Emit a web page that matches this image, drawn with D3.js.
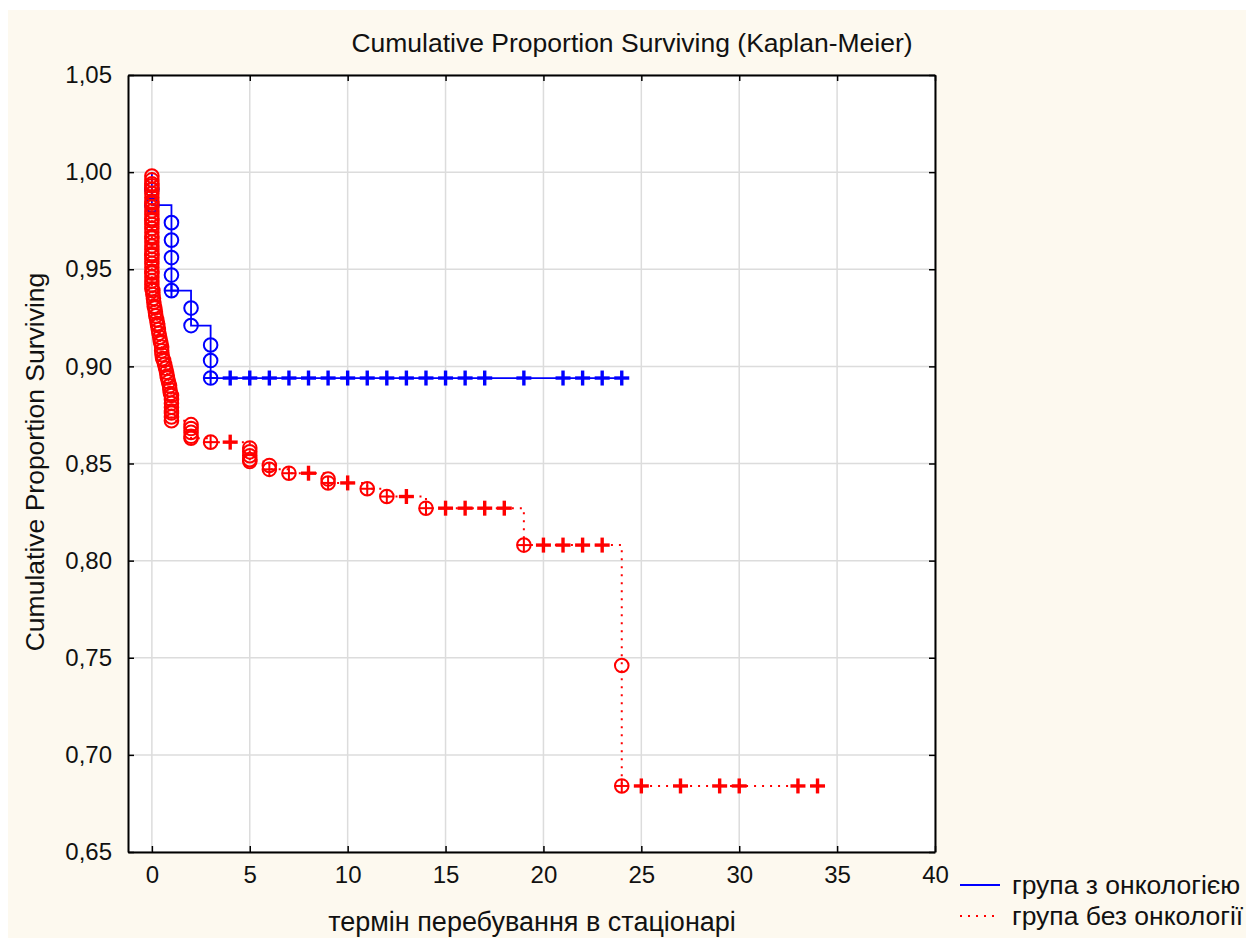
<!DOCTYPE html>
<html>
<head>
<meta charset="utf-8">
<script src="https://cdn.jsdelivr.net/npm/d3@7"></script>
<style>
body { margin: 0; background: #fff; }
svg text { font-family: "Liberation Sans", Arial, sans-serif; fill: #111; }
</style>
</head>
<body>
<div id="chart"></div>
<script>
var width = 1250,
	height = 940;

// axis ticks
var xTicks = [0, 5, 10, 15, 20, 25, 30, 35, 40];
var yTicks = [0.65, 0.70, 0.75, 0.80, 0.85, 0.90, 0.95, 1.00, 1.05];

// група з онкологією: [time, survival] at each death
var blueEvents = [
	[0, 0.991], [0, 0.983],
	[1, 0.974], [1, 0.965], [1, 0.956], [1, 0.947], [1, 0.939],
	[2, 0.930], [2, 0.921],
	[3, 0.911], [3, 0.903], [3, 0.894]
];
var blueCensored = [1, 3, 4, 5, 6, 7, 8, 9, 10, 11, 12, 13, 14, 15, 16, 17, 19, 21, 22, 23, 24];
var blueEnd = 24;

// група без онкології
var redEvents = [
	[0, 0.998], [0, 0.996], [0, 0.994], [0, 0.993], [0, 0.991], [0, 0.989], [0, 0.987], [0, 0.985], [0, 0.984], [0, 0.982],
	[0, 0.980], [0, 0.978], [0, 0.976], [0, 0.975], [0, 0.973], [0, 0.971], [0, 0.969], [0, 0.967], [0, 0.966], [0, 0.964],
	[0, 0.962], [0, 0.960], [0, 0.958], [0, 0.957], [0, 0.955], [0, 0.953], [0, 0.951], [0, 0.949], [0, 0.948], [0, 0.946],
	[0, 0.944], [0, 0.942], [0, 0.940], [0.05, 0.939], [0.05, 0.937], [0.08, 0.935], [0.1, 0.933], [0.12, 0.931], [0.15, 0.930], [0.18, 0.928],
	[0.2, 0.926], [0.25, 0.924], [0.28, 0.922], [0.3, 0.921], [0.33, 0.919], [0.36, 0.917], [0.4, 0.915], [0.43, 0.913], [0.46, 0.912], [0.5, 0.910],
	[0.5, 0.908], [0.52, 0.906], [0.55, 0.904], [0.6, 0.903], [0.65, 0.901], [0.7, 0.899], [0.75, 0.897], [0.78, 0.895], [0.8, 0.894], [0.85, 0.892],
	[0.9, 0.890], [0.92, 0.888], [0.95, 0.886], [1, 0.885], [1, 0.883], [1, 0.881], [1, 0.879], [1, 0.877], [1, 0.876], [1, 0.874], [1, 0.872],
	[2, 0.870], [2, 0.868], [2, 0.866], [2, 0.864], [2, 0.863],
	[3, 0.861],
	[5, 0.858], [5, 0.856], [5, 0.854], [5, 0.852], [5, 0.851],
	[6, 0.849], [6, 0.847],
	[7, 0.845],
	[9, 0.842], [9, 0.840],
	[11, 0.837],
	[12, 0.833],
	[14, 0.827],
	[19, 0.808],
	[24, 0.746], [24, 0.684]
];
var redCensored = [3, 4, 6, 7, 8, 9, 10, 11, 12, 13, 14, 15, 16, 17, 18, 19, 20, 21, 22, 23, 24, 25, 27, 29, 30, 33, 34];
var redEnd = 34;

var groupNames = ["група з онкологією", "група без онкології"];

var margin = {left: 128, top: 75, right: 315, bottom: 88};

var svg = d3.select("#chart")
	.append("svg")
	.attr("width", width)
	.attr("height", height);

// cream page
svg.append("rect")
	.attr("x", 8).attr("y", 10)
	.attr("width", width - 12).attr("height", height - 12)
	.attr("fill", "#fdf9ef");

var x = d3.scaleLinear().domain([-1.22, 40]).range([margin.left, width - margin.right]);
var y = d3.scaleLinear().domain([0.65, 1.05]).range([height - margin.bottom, margin.top]);

var x0 = x.range()[0], x1 = x.range()[1], y0 = y.range()[0], y1 = y.range()[1];

svg.append("rect")
	.attr("x", x0).attr("y", y1)
	.attr("width", x1 - x0).attr("height", y0 - y1)
	.attr("fill", "#fff");

// grid
svg.append("g").selectAll("line")
	.data(xTicks)
	.enter().append("line")
	.attr("x1", function(d) { return x(d); })
	.attr("x2", function(d) { return x(d); })
	.attr("y1", y1).attr("y2", y0)
	.attr("stroke", "#dcdcdc")
	.attr("stroke-width", 1.5);

svg.append("g").selectAll("line")
	.data(yTicks)
	.enter().append("line")
	.attr("y1", function(d) { return y(d); })
	.attr("y2", function(d) { return y(d); })
	.attr("x1", x0).attr("x2", x1)
	.attr("stroke", "#dcdcdc")
	.attr("stroke-width", 1.5);

// axes, ticks point inward
var fmt = function(d) { return d3.format(".2f")(d).replace(".", ","); };

var axB = svg.append("g").attr("transform", "translate(0," + y0 + ")")
	.call(d3.axisBottom(x).tickValues(xTicks).tickSizeInner(-6).tickSizeOuter(0).tickPadding(14));
var axT = svg.append("g").attr("transform", "translate(0," + y1 + ")")
	.call(d3.axisTop(x).tickValues(xTicks).tickSizeInner(-6).tickSizeOuter(0).tickFormat(""));
var axL = svg.append("g").attr("transform", "translate(" + x0 + ",0)")
	.call(d3.axisLeft(y).tickValues(yTicks).tickSizeInner(-6).tickSizeOuter(0).tickPadding(16).tickFormat(fmt));
var axR = svg.append("g").attr("transform", "translate(" + x1 + ",0)")
	.call(d3.axisRight(y).tickValues(yTicks).tickSizeInner(-6).tickSizeOuter(0).tickFormat(""));

[axB, axT, axL, axR].forEach(function(a) {
	a.selectAll("path").attr("stroke", "#000").attr("stroke-width", 2);
	a.selectAll("line").attr("stroke", "#000").attr("stroke-width", 1.5);
	a.selectAll("text").attr("font-size", 24).attr("fill", "#111")
		.style("font-family", "'Liberation Sans', Arial, sans-serif");
});

// step function value right after time t
function survivalAt(events, t) {
	var s = 1;
	events.forEach(function(e) { if (e[0] <= t) s = e[1]; });
	return s;
}

var stepLine = d3.line()
	.x(function(d) { return x(d[0]); })
	.y(function(d) { return y(d[1]); })
	.curve(d3.curveStepAfter);

function drawGroup(events, censored, endTime, color, dash) {
	var g = svg.append("g");
	var pts = [[0, 1]].concat(events);
	pts.push([endTime, events[events.length - 1][1]]);

	g.append("path")
		.attr("d", stepLine(pts))
		.attr("fill", "none")
		.attr("stroke", color)
		.attr("stroke-width", dash ? 2 : 1.8)
		.attr("stroke-dasharray", dash ? "2,6" : null);

	// deaths: open circles
	g.selectAll(".ev")
		.data(events)
		.enter().append("circle")
		.attr("cx", function(d) { return x(d[0]); })
		.attr("cy", function(d) { return y(d[1]); })
		.attr("r", 6.8)
		.attr("fill", "none")
		.attr("stroke", color)
		.attr("stroke-width", 2);

	// censored: thin cross inside a circle when at an event time, bold plus otherwise
	var evTimes = events.map(function(e) { return e[0]; });
	var cens = g.selectAll(".cens")
		.data(censored)
		.enter().append("g")
		.attr("transform", function(t) { return "translate(" + x(t) + "," + y(survivalAt(events, t)) + ")"; });

	cens.each(function(t) {
		var sel = d3.select(this);
		var onEvent = evTimes.indexOf(t) >= 0;
		var h = onEvent ? 6.8 : 7.5;
		var sw = onEvent ? 2 : 3.4;
		sel.append("line").attr("x1", -h).attr("x2", h).attr("y1", 0).attr("y2", 0)
			.attr("stroke", color).attr("stroke-width", sw);
		sel.append("line").attr("y1", -h).attr("y2", h).attr("x1", 0).attr("x2", 0)
			.attr("stroke", color).attr("stroke-width", sw);
	});
}

drawGroup(blueEvents, blueCensored, blueEnd, "#0000ff", false);
drawGroup(redEvents, redCensored, redEnd, "#ff0000", true);

// titles
svg.append("text")
	.attr("x", 632).attr("y", 52)
	.attr("text-anchor", "middle")
	.attr("font-size", 26.5)
	.text("Cumulative Proportion Surviving (Kaplan-Meier)");

svg.append("text")
	.attr("transform", "translate(44," + 462 + ") rotate(-90)")
	.attr("text-anchor", "middle")
	.attr("font-size", 26.5)
	.text("Cumulative Proportion Surviving");

svg.append("text")
	.attr("x", 532).attr("y", 931)
	.attr("text-anchor", "middle")
	.attr("font-size", 27)
	.text("термін перебування в стаціонарі");

// legend
var legend = svg.append("g").selectAll("g")
	.data(groupNames)
	.enter().append("g")
	.attr("transform", function(d, i) { return "translate(960," + (885 + i * 31) + ")"; });

legend.append("line")
	.attr("x1", 0).attr("x2", 40)
	.attr("stroke", function(d, i) { return i == 0 ? "#0000ff" : "#ff0000"; })
	.attr("stroke-width", function(d, i) { return i == 0 ? 1.8 : 2; })
	.attr("stroke-dasharray", function(d, i) { return i == 0 ? null : "2,6"; });

legend.append("text")
	.attr("x", 52).attr("y", 9)
	.attr("font-size", 26.5)
	.text(function(d) { return d; });
</script>
</body>
</html>
